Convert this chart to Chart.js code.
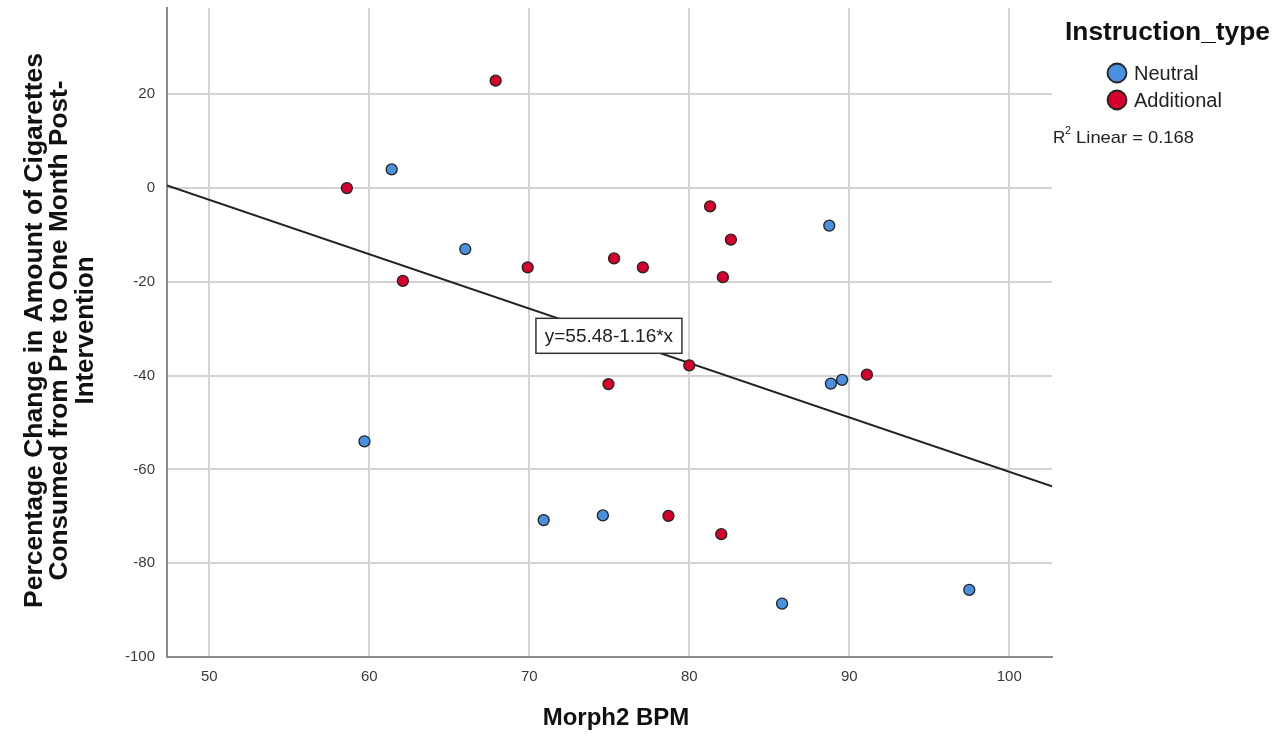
<!DOCTYPE html>
<html>
<head>
<meta charset="utf-8">
<script src="https://cdn.jsdelivr.net/npm/chart.js@4"></script>
<style>
  html, body { margin: 0; padding: 0; background: #fff; }
  #wrap { width: 1276px; height: 741px; }
</style>
</head>
<body>
<div id="wrap"><canvas id="myChart" width="1276" height="741"></canvas></div>
<script>
// values
var neutralX = [61.4, 66.0, 59.7, 70.9, 74.6, 85.8, 88.75, 88.85, 89.55, 97.5];
var neutralY = [4.0, -13.0, -54.0, -70.8, -69.8, -88.6, -8.0, -41.7, -40.9, -85.7];
var additionalX = [67.9, 58.6, 62.1, 69.9, 75.3, 77.1, 81.3, 82.6, 82.1, 80.0, 74.95, 91.1, 78.7, 82.0];
var additionalY = [22.9, 0.0, -19.8, -16.9, -15.0, -16.9, -3.9, -11.0, -19.0, -37.8, -41.8, -39.8, -69.9, -73.8];
var xTicks = [50, 60, 70, 80, 90, 100];
var yTicks = [-100, -80, -60, -40, -20, 0, 20];
var fitIntercept = 55.48;
var fitSlope = -1.16;
var xMin = 47.36, xMax = 102.67;
var yMin = -100, yMax = 38.4;

var FONT = "'Liberation Sans', Arial, sans-serif";
var blue = "#4a90e0";
var red = "#d5002b";

function pts(xs, ys) {
  return xs.map(function (x, i) { return { x: x, y: ys[i] }; });
}

var fitLine = [xMin, xMax].map(function (x) {
  return { x: x, y: fitIntercept + fitSlope * x };
});

// draw text stretched/squeezed to a given width
function fitText(ctx, text, x, y, w) {
  var m = ctx.measureText(text).width;
  ctx.save();
  ctx.translate(x, y);
  ctx.scale(w / m, 1);
  ctx.fillText(text, 0, 0);
  ctx.restore();
}

// titles, legend and the fit label
var decorations = {
  id: "decorations",
  afterDatasetsDraw: function (chart) {
    var ctx = chart.ctx;
    var sx = chart.scales.x, sy = chart.scales.y;
    ctx.save();

    // equation box
    var cx = sx.getPixelForValue(74.98), cy = sy.getPixelForValue(-31.4);
    ctx.fillStyle = "#fff";
    ctx.fillRect(cx - 73, cy - 17, 146, 35);
    ctx.strokeStyle = "#333";
    ctx.lineWidth = 1.5;
    ctx.strokeRect(cx - 73, cy - 17, 146, 35);
    ctx.fillStyle = "#222";
    ctx.font = "19px " + FONT;
    ctx.textAlign = "center";
    ctx.textBaseline = "middle";
    ctx.fillText("y=55.48-1.16*x", cx, cy + 1, 138);

    // x title
    ctx.font = "bold 24px " + FONT;
    ctx.fillStyle = "#111";
    ctx.fillText("Morph2 BPM", 616, 718, 148);

    // y title
    ctx.save();
    ctx.translate(0, 330.5);
    ctx.rotate(-Math.PI / 2);
    ctx.font = "bold 25px " + FONT;
    ctx.textBaseline = "alphabetic";
    fitText(ctx, "Percentage Change in Amount of Cigarettes", 0, 42, 555);
    fitText(ctx, "Consumed from Pre to One Month Post-", 0, 67, 500);
    fitText(ctx, "Intervention", 0, 93, 148);
    ctx.restore();

    // legend
    ctx.textAlign = "left";
    ctx.textBaseline = "middle";
    ctx.font = "bold 25px " + FONT;
    fitText(ctx, "Instruction_type", 1065, 33, 205);
    [[blue, "Neutral", 73], [red, "Additional", 100]].forEach(function (it) {
      ctx.beginPath();
      ctx.arc(1117, it[2], 9.5, 0, Math.PI * 2);
      ctx.fillStyle = it[0];
      ctx.fill();
      ctx.lineWidth = 1.8;
      ctx.strokeStyle = "#222";
      ctx.stroke();
      ctx.fillStyle = "#222";
      ctx.font = "20px " + FONT;
      ctx.fillText(it[1], 1134, it[2] + 1);
    });

    ctx.font = "17px " + FONT;
    ctx.fillText("R", 1053, 138);
    ctx.font = "11px " + FONT;
    ctx.fillText("2", 1065, 131);
    ctx.font = "17px " + FONT;
    fitText(ctx, " Linear = 0.168", 1071, 138, 123);

    ctx.restore();
  }
};

var ctx = document.getElementById("myChart").getContext("2d");
var chart = new Chart(ctx, {
  type: "scatter",
  data: {
    datasets: [
      {
        label: "Neutral",
        data: pts(neutralX, neutralY),
        backgroundColor: blue,
        borderColor: "#222",
        borderWidth: 1.3,
        pointRadius: 5.5
      },
      {
        label: "Additional",
        data: pts(additionalX, additionalY),
        backgroundColor: red,
        borderColor: "#222",
        borderWidth: 1.3,
        pointRadius: 5.5
      },
      {
        type: "line",
        label: "Linear fit",
        data: fitLine,
        borderColor: "#222",
        borderWidth: 2,
        pointRadius: 0,
        fill: false
      }
    ]
  },
  options: {
    responsive: false,
    animation: false,
    layout: { padding: { top: 8, right: 224, left: 0, bottom: 0 } },
    plugins: { legend: { display: false }, tooltip: { enabled: false } },
    scales: {
      x: {
        type: "linear",
        min: xMin,
        max: xMax,
        afterBuildTicks: function (s) { s.ticks = xTicks.map(function (v) { return { value: v }; }); },
        afterFit: function (s) { s.height = 84; s.paddingLeft = 0; s.paddingRight = 0; },
        grid: { color: "#d3d3d3", lineWidth: 2, drawTicks: false },
        border: { color: "#8a8a8a", width: 2 },
        ticks: { color: "#3a3a3a", font: { family: FONT, size: 15 }, padding: 11, maxRotation: 0 }
      },
      y: {
        type: "linear",
        min: yMin,
        max: yMax,
        afterBuildTicks: function (s) { s.ticks = yTicks.map(function (v) { return { value: v }; }); },
        afterFit: function (s) { s.width = 167; s.paddingTop = 0; s.paddingBottom = 0; },
        grid: { color: "#d3d3d3", lineWidth: 2, drawTicks: false },
        border: { color: "#8a8a8a", width: 2 },
        ticks: { color: "#3a3a3a", font: { family: FONT, size: 15 }, padding: 12 }
      }
    }
  },
  plugins: [decorations]
});
</script>
</body>
</html>
